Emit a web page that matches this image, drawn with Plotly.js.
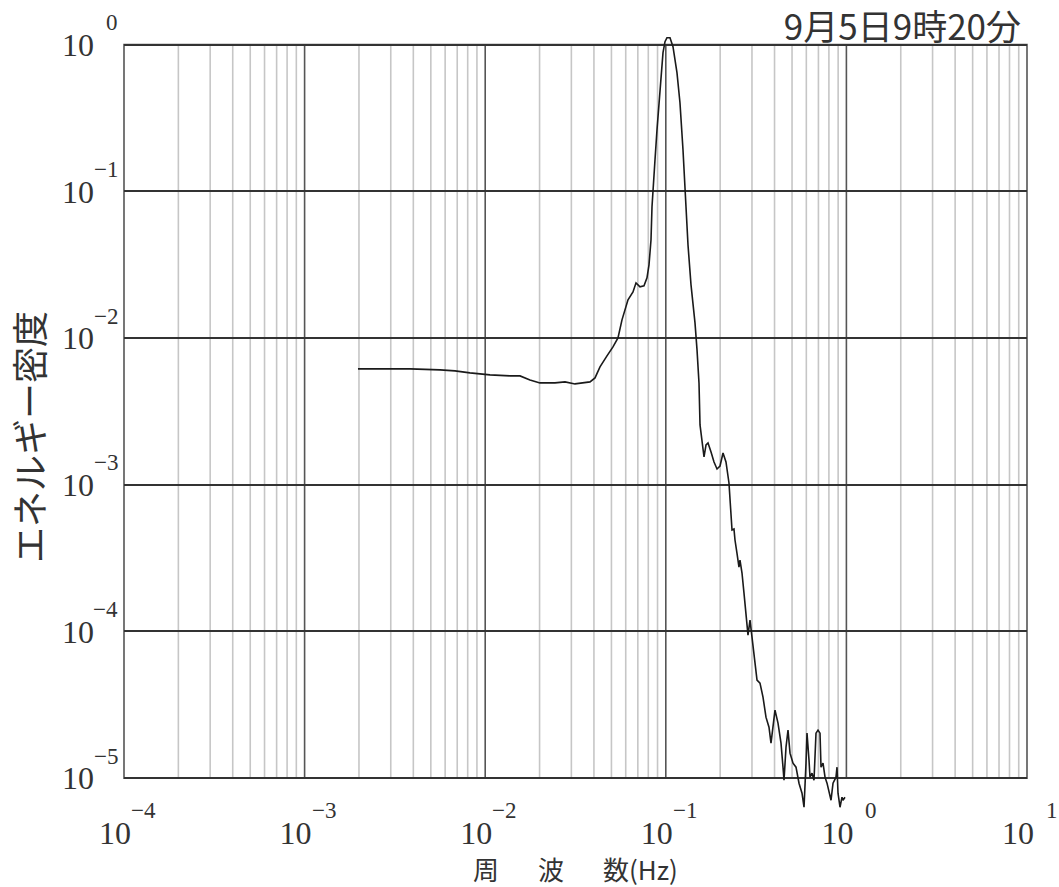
<!DOCTYPE html>
<html><head><meta charset="utf-8">
<script src="https://cdn.plot.ly/plotly-3.0.1.min.js"></script>
<style>html,body{margin:0;padding:0;background:#fff;}</style>
</head><body>
<div id="chart" style="width:1059px;height:887px;"></div>
<script>
// ---- data ----
const frequencyHz = [
  0.001975, 0.002615, 0.003834, 0.005620, 0.006805, 0.008235, 0.01063, 0.01372, 0.01559, 0.01770,
  0.02010, 0.02434, 0.02766, 0.03142, 0.03569, 0.03805, 0.04055, 0.04322, 0.04724, 0.05099,
  0.05435, 0.05720, 0.06176, 0.06582, 0.06839, 0.07197, 0.07573, 0.07868, 0.08072, 0.08281,
  0.08387, 0.08494, 0.08714, 0.08939, 0.09288, 0.09649, 0.09899, 0.1015, 0.1055, 0.1096,
  0.1153, 0.1198, 0.1245, 0.1277, 0.1327, 0.1379, 0.1451, 0.1489, 0.1527, 0.1547,
  0.1587, 0.1628, 0.1670, 0.1713, 0.1780, 0.1849, 0.1921, 0.1996, 0.2074, 0.2154,
  0.2238, 0.2296, 0.2326, 0.2385, 0.2416, 0.2478, 0.2542, 0.2575, 0.2642, 0.2710,
  0.2780, 0.2852, 0.2926, 0.3001, 0.3118, 0.3199, 0.3323, 0.3453, 0.3587, 0.3727,
  0.3824, 0.3923, 0.4024, 0.4181, 0.4344, 0.4456, 0.4514, 0.4631, 0.4750, 0.4873,
  0.5063, 0.5260, 0.5465, 0.5678, 0.5825, 0.5975, 0.6051, 0.6208, 0.6287, 0.6450,
  0.6616, 0.6787, 0.6963, 0.7143, 0.7235, 0.7422, 0.7614, 0.7811, 0.8013, 0.8219,
  0.8432, 0.8758, 0.8872, 0.8986, 0.9218, 0.9454, 0.9576, 0.9822
];
const energyDensity = [
  0.006164, 0.006164, 0.006164, 0.006068, 0.005974, 0.005789, 0.005610, 0.005523, 0.005523, 0.005187,
  0.004948, 0.004948, 0.005026, 0.004871, 0.004948, 0.005026, 0.005352, 0.006360, 0.007557, 0.008710,
  0.01003, 0.01331, 0.01822, 0.02065, 0.02379, 0.02234, 0.02270, 0.02574, 0.03157, 0.04674,
  0.07852, 0.1075, 0.1643, 0.2631, 0.5171, 0.8818, 1.048, 1.116, 1.116, 0.9691,
  0.6442, 0.4021, 0.1922, 0.09783, 0.04322, 0.02306, 0.01270, 0.008308, 0.004948, 0.002558,
  0.002021, 0.001547, 0.001869, 0.001928, 0.001674, 0.001430, 0.001282, 0.001343, 0.001648, 0.001430,
  0.001029, 0.0005751, 0.0004917, 0.0004995, 0.0004202, 0.0003425, 0.0002749, 0.0003069, 0.0002503, 0.0001828,
  0.0001335, 0.0000945, 0.0001196, 0.00009157, 0.00005899, 0.00004661, 0.00004446, 0.00003568, 0.00002606, 0.00002228,
  0.00001733, 0.00002299, 0.00002909, 0.00002372, 0.00001733, 0.00001189, 0.000009691, 0.00001628, 0.00002125, 0.00001481,
  0.00001266, 0.00001189, 0.000009245, 0.000007902, 0.000006341, 0.00001266, 0.00002028, 0.00001327, 0.00001016, 0.00001082,
  0.000009691, 0.00002028, 0.00002125, 0.00002028, 0.00001189, 0.00001266, 0.00001016, 0.000009245, 0.000007902, 0.000007078,
  0.000009245, 0.00001016, 0.00001189, 0.000007902, 0.000006341, 0.000007421, 0.000007078, 0.000007421
];
const xTickVals = [1e-4, 1e-3, 1e-2, 1e-1, 1e0, 1e1];
const xTickBase = ['10', '10', '10', '10', '10', '10'];
const xTickExp = ['−4', '−3', '−2', '−1', '0', '1'];
const yTickVals = [1e0, 1e-1, 1e-2, 1e-3, 1e-4, 1e-5];
const yTickBase = ['10', '10', '10', '10', '10', '10'];
const yTickExp = ['0', '−1', '−2', '−3', '−4', '−5'];
const titleText = '9月5日9時20分';
const xTitleText = '周\u3000\u2002波\u3000\u2002数(Hz)';
const yTitleText = 'エネルギー密度';

// ---- layout helpers ----
const X_RANGE = [-4, 1];
const Y_RANGE = [-5.21, 0.1];
const FRAME_X = [1e-4, 1e1];
const FRAME_Y = [1e-5, 1e0];
const W = 1059, H = 887;
const M = {l: 124, r: 32, t: 30, b: 78};
const plotW = W - M.l - M.r, plotH = H - M.t - M.b;
const xp = v => (Math.log10(v) - X_RANGE[0]) / (X_RANGE[1] - X_RANGE[0]);
const yp = v => (Math.log10(v) - Y_RANGE[0]) / (Y_RANGE[1] - Y_RANGE[0]);
const isNeg = s => s.charAt(0) === '−';

const shapes = [];
for (let d = -4; d < 1; d++) {
  for (let m = 1; m <= 9; m++) {
    if (m === 1 && d === -4) continue;
    const v = m * Math.pow(10, d);
    shapes.push({
      type: 'line', xref: 'paper', yref: 'paper', layer: 'below',
      x0: xp(v), x1: xp(v), y0: yp(FRAME_Y[0]), y1: yp(FRAME_Y[1]),
      line: {color: m === 1 ? '#555555' : '#c6c6c6', width: 1.6}
    });
  }
}
shapes.push({
  type: 'rect', xref: 'paper', yref: 'paper', layer: 'below',
  x0: xp(FRAME_X[0]), x1: xp(FRAME_X[1]), y0: yp(FRAME_Y[0]), y1: yp(FRAME_Y[1]),
  line: {color: '#555555', width: 1.6}, fillcolor: 'rgba(0,0,0,0)'
});

const numFont = {family: 'Liberation Serif, serif', size: 32, color: '#333333'};
const expFont = {family: 'Liberation Serif, serif', size: 23, color: '#333333'};
const jpFont = {family: 'Noto Sans CJK JP, sans-serif', color: '#333333'};

const annotations = [];
// exponents of the x tick labels
xTickVals.forEach((v, i) => {
  annotations.push({
    text: xTickExp[i], xref: 'paper', yref: 'paper',
    x: xp(v), y: (H - M.b - 810) / plotH,
    xanchor: 'left', yanchor: 'middle', xshift: isNeg(xTickExp[i]) ? 6 : 18,
    showarrow: false, font: expFont, borderpad: 0
  });
});
// exponents of the y tick labels
yTickVals.forEach((v, i) => {
  annotations.push({
    text: yTickExp[i], xref: 'paper', yref: 'paper',
    x: (119 - M.l) / plotW, y: yp(v), yshift: 22,
    xanchor: 'right', yanchor: 'middle',
    showarrow: false, font: expFont, borderpad: 0
  });
});
// x axis title
annotations.push({
  text: xTitleText, xref: 'paper', yref: 'paper',
  x: 0.5, y: (H - M.b - 868) / plotH,
  xanchor: 'center', yanchor: 'middle', showarrow: false, borderpad: 0,
  font: Object.assign({size: 26}, jpFont)
});
// y axis title
annotations.push({
  text: yTitleText, xref: 'paper', yref: 'paper',
  x: (28 - M.l) / plotW, y: (H - M.b - 437) / plotH,
  xanchor: 'center', yanchor: 'middle', textangle: -90, showarrow: false,
  font: Object.assign({size: 36}, jpFont)
});

const trace = {
  type: 'scatter', mode: 'lines',
  x: frequencyHz, y: energyDensity,
  line: {color: '#1a1a1a', width: 1.6},
  hoverinfo: 'skip', showlegend: false
};

const layout = {
  width: W, height: H,
  margin: M,
  paper_bgcolor: '#ffffff', plot_bgcolor: 'rgba(0,0,0,0)',
  showlegend: false,
  title: {
    text: titleText, xref: 'container', yref: 'container',
    x: 1021 / W, xanchor: 'right', y: 1 - 28 / H, yanchor: 'middle',
    font: Object.assign({size: 35}, jpFont)
  },
  xaxis: {
    type: 'log', range: X_RANGE, autorange: false,
    tickmode: 'array', tickvals: xTickVals, ticktext: xTickBase,
    showgrid: false, zeroline: false, showline: false, ticks: '',
    ticklabelstandoff: 2, ticklabelshift: -9,
    tickfont: numFont, automargin: false
  },
  yaxis: {
    type: 'log', range: Y_RANGE, autorange: false,
    tickmode: 'array', tickvals: yTickVals, ticktext: yTickBase,
    showgrid: true, gridcolor: '#333333', gridwidth: 2,
    zeroline: false, showline: false, ticks: '',
    ticklabelstandoff: 29,
    tickfont: numFont, automargin: false
  },
  shapes: shapes,
  annotations: annotations
};

Plotly.newPlot('chart', [trace], layout, {displayModeBar: false, staticPlot: true});
</script>
</body></html>
